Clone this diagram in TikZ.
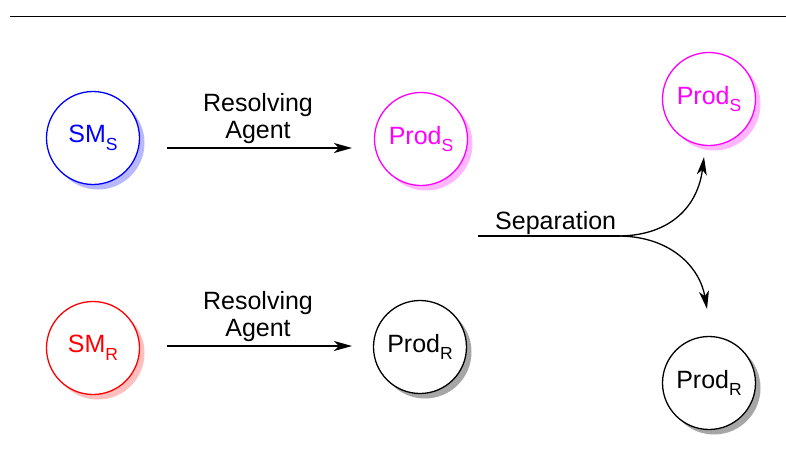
\documentclass[tikz,border=0pt]{standalone}
\usepackage{fontspec}
\setmainfont{Liberation Sans}
\usetikzlibrary{arrows.meta,shadows}

\definecolor{molblue}{RGB}{0,0,255}
\definecolor{molmag}{RGB}{255,0,255}
\definecolor{molred}{RGB}{255,0,0}
\definecolor{molblack}{RGB}{0,0,0}

% subscript set in the same sans face
\newcommand{\molsub}[1]{\raisebox{-7.5pt}{\fontsize{17.5}{18}\selectfont #1}}

\tikzset{
  x=1pt, y=-1pt,
  mol/.style 2 args={circle, draw=#1, text=#1, fill=white, line width=1.3pt,
    minimum size=93pt, inner sep=0pt, font=\fontsize{25}{30}\selectfont,
    drop shadow={shadow xshift=5pt, shadow yshift=-5pt, fill=#2, opacity=1}},
  lbl/.style={anchor=base, inner sep=0pt, font=\fontsize{25}{30}\selectfont},
  rxn/.style={line width=1.3pt, -{Stealth[length=18pt, width=10pt, inset=5pt]}},
}

\begin{document}
\begin{tikzpicture}
\useasboundingbox (0,0) rectangle (786,450);

% header rule
\coordinate (ruleL) at (10,16.5);
\coordinate (ruleR) at (786,16.5);
\draw[line width=1.3pt] (ruleL) -- (ruleR);

% starting materials and products
\node[mol={molblue}{molblue!28}]   (sms)   at (93,138)  {SM\molsub{S}};
\node[mol={molred}{molred!25}]     (smr)   at (93,348)  {SM\molsub{R}};
\node[mol={molmag}{molmag!28}]     (prods) at (421,139) {Prod\molsub{S}};
\node[mol={molblack}{black!35}]    (prodr) at (420,347) {Prod\molsub{R}};
\node[mol={molmag}{molmag!28}]     (outs)  at (709,99)  {Prod\molsub{S}};
\node[mol={molblack}{black!35}]    (outr)  at (709,383) {Prod\molsub{R}};

% resolution arrows
\coordinate (a1s) at (167,148);
\coordinate (a1e) at (352,148);
\coordinate (a2s) at (167,346);
\coordinate (a2e) at (352,346);
\draw[rxn] (a1s) -- (a1e);
\draw[rxn] (a2s) -- (a2e);

\node[lbl] (res1) at (258,111) {Resolving};
\node[lbl] (ag1)  at (258,138) {Agent};
\node[lbl] (res2) at (258,309) {Resolving};
\node[lbl] (ag2)  at (258,336) {Agent};

% separation fork
\coordinate (sepL) at (478,236);
\coordinate (fork) at (620,236);
\coordinate (tipS) at (704,157);
\coordinate (tipR) at (707,309);
\draw[line width=1.3pt] (sepL) -- (fork);
\draw[rxn] (fork) .. controls (672,235) and (698,205) .. (tipS);
\draw[rxn] (fork) .. controls (672,237) and (700,268) .. (tipR);
\node[lbl, anchor=base west] (sep) at (495,229) {Separation};

\end{tikzpicture}
\end{document}
